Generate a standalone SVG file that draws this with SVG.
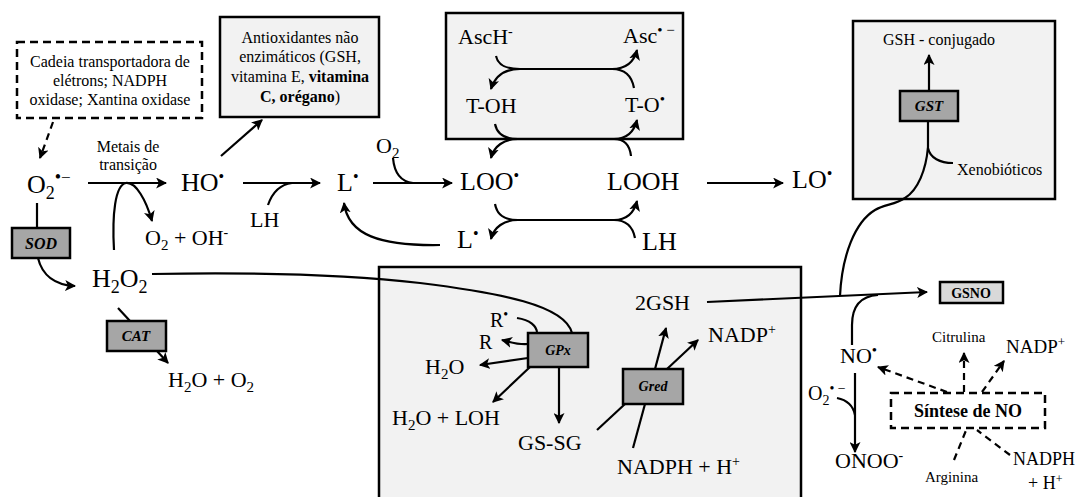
<svg xmlns="http://www.w3.org/2000/svg" width="1077" height="497" viewBox="0 0 1077 497">
<style>
text{font-family:"Liberation Serif","Times New Roman",serif;fill:#000}
.m{font-size:26px}
.s{font-size:22px}
.t{font-size:16px}
.c{text-anchor:middle}
.enz{font-weight:bold;font-style:italic;text-anchor:middle}
.box{fill:#f2f2f2;stroke:#000;stroke-width:2.5}
.ebox{fill:#a6a6a6;stroke:#000;stroke-width:2.5}
.dbox{fill:#fff;stroke:#000;stroke-width:2.5;stroke-dasharray:8 5}
.ln{fill:none;stroke:#000;stroke-width:2.2}
.ar{fill:none;stroke:#000;stroke-width:2.2;marker-end:url(#ah)}
.da{fill:none;stroke:#000;stroke-width:2.2;stroke-dasharray:7 5}
.dar{fill:none;stroke:#000;stroke-width:2.2;stroke-dasharray:7 5;marker-end:url(#ah)}
</style>
<defs>
<marker id="ah" viewBox="0 0 10 10" refX="9" refY="5" markerWidth="11" markerHeight="11" markerUnits="userSpaceOnUse" orient="auto">
<path d="M0,0 L10,5 L0,10 L2.5,5 Z" fill="#000"/>
</marker>
</defs>

<!-- background boxes -->
<g id="box-sources"><rect class="dbox" x="17" y="42" width="185" height="76"/>
<text class="t c" x="110" y="67">Cadeia transportadora de</text>
<text class="t c" x="110" y="86">elétrons; NADPH</text>
<text class="t c" x="110" y="105">oxidase; Xantina oxidase</text></g>

<g id="box-antiox"><rect class="box" x="220" y="17" width="159" height="100"/>
<text class="t c" x="300" y="43">Antioxidantes não</text>
<text class="t c" x="300" y="62">enzimáticos (GSH,</text>
<text class="t c" x="300" y="82">vitamina E, <tspan font-weight="bold">vitamina</tspan></text>
<text class="t c" x="300" y="102"><tspan font-weight="bold">C, orégano</tspan>)</text></g>

<g id="box-asc"><rect class="box" x="446" y="13" width="237" height="126"/>
<text class="s" x="458" y="44">AscH<tspan font-size="14" dy="-8">-</tspan></text>
<text class="s" x="623" y="43">Asc<tspan font-size="15" dy="-8">• −</tspan></text>
<text class="s" x="466" y="113">T-OH</text>
<text class="s" x="625" y="112">T-O<tspan font-size="15" dy="-8">•</tspan></text></g>

<g id="box-gst"><rect class="box" x="853" y="21" width="202" height="178"/>
<text class="t" x="883" y="45">GSH - conjugado</text>
<text class="t" x="957" y="175">Xenobióticos</text></g>

<g id="box-gpx"><rect class="box" x="379" y="267" width="422" height="245"/></g>

<!-- connectors -->
<g id="connectors">
<path class="dar" d="M53 122 L40 158"/>
<path class="ar" d="M88 183 L166 183"/>
<path class="ar" d="M114 250 C112 215 115 185 126 183 C136 182 146 200 152 221"/>
<path class="ar" d="M221 156 L262 120"/>
<path class="ar" d="M243 183 L320 183"/>
<path class="ln" d="M268 205 Q275 185 292 183"/>
<path class="ar" d="M373 183 L452 183"/>
<path class="ln" d="M393 158 Q395 181 413 183"/>
<path class="ar" d="M440 245 C380 246 348 235 344 203"/>
<!-- Asc cycle -->
<path class="ar" d="M496 56 C498 65 505 69 520 69 L612 69 C626 69 634 62 637 50"/>
<path class="ar" d="M634 88 C632 77 626 69 612 69 M520 69 C505 69 495 76 491 89"/>
<!-- T-OH / LOO cycle -->
<path class="ar" d="M495 124 C497 134 504 139 518 139 L614 139 C627 139 634 132 637 120"/>
<path class="ar" d="M631 156 C630 147 626 139 614 139 M518 139 C504 139 494 146 491 158"/>
<!-- LOO / LH cycle -->
<path class="ar" d="M495 204 C497 215 504 220 518 220 L614 220 C627 220 634 213 637 201"/>
<path class="ar" d="M635 238 C633 228 627 220 614 220 M518 220 C504 220 494 227 491 239"/>
<path class="ar" d="M707 183 L783 183"/>
<!-- GST -->
<path class="ar" d="M929 91 L929 55"/>
<path class="ln" d="M928 122 L928 147 C926 170 918 190 905 198 C895 205 885 204 875 210 C855 222 842 255 840 296"/>
<path class="ln" d="M928 148 C930 158 940 163 953 163"/>
<!-- SOD / CAT -->
<path class="ln" d="M37 203 L37 228"/>
<path class="ar" d="M38 258 C42 275 55 285 75 286"/>
<path class="ln" d="M118 308 L130 321"/>
<path class="ar" d="M157 351 L168 363"/>
<!-- H2O2 to GPx -->
<path class="ln" d="M152 274 C260 272 350 275 420 283 C500 293 565 305 572 333"/>
<path class="ln" d="M517 318 C530 320 537 326 537 333"/>
<path class="ar" d="M528 344 C518 345 510 342 502 340"/>
<path class="ar" d="M528 358 L480 365"/>
<path class="ar" d="M530 367 L493 402"/>
<path class="ar" d="M559 367 L559 423"/>
<path class="ln" d="M597 430 L625 404"/>
<path class="ln" d="M633 448 L645 404"/>
<path class="ar" d="M655 369 L666 328"/>
<path class="ar" d="M667 369 L698 340"/>
<path class="ar" d="M707 302 L927 292"/>
<!-- NO -->
<path class="ln" d="M852 345 L852 325 C852 305 862 296 878 295"/>
<path class="ar" d="M855 373 L855 452"/>
<path class="ln" d="M837 398 C847 400 853 405 855 415"/>
<path class="dar" d="M947 392 L878 367"/>
<path class="dar" d="M964 392 L964 353"/>
<path class="dar" d="M982 392 L1004 361"/>
<path class="da" d="M954 460 L967 428"/>
<path class="da" d="M1010 455 L977 430"/>
</g>

<!-- species nodes -->
<g id="n-o2r"><text class="m" x="27" y="193">O<tspan font-size="18" dy="6">2</tspan><tspan font-size="18" dy="-16">•</tspan><tspan font-size="17">−</tspan></text></g>
<g id="n-metais"><text class="t c" x="128" y="152">Metais de</text><text class="t c" x="128" y="170">transição</text></g>
<g id="n-ho"><text class="m" x="181" y="191">HO<tspan font-size="16" dy="-9">•</tspan></text></g>
<g id="n-o2oh"><text class="s" x="145" y="245">O<tspan font-size="15" dy="5">2</tspan><tspan dy="-5"> + OH</tspan><tspan font-size="14" dy="-8">-</tspan></text></g>
<g id="n-lh1"><text class="s" x="250" y="227">LH</text></g>
<g id="n-l1"><text class="m" x="337" y="191">L<tspan font-size="16" dy="-9">•</tspan></text></g>
<g id="n-o2"><text class="s" x="376" y="153">O<tspan font-size="15" dy="5">2</tspan></text></g>
<g id="n-loo"><text class="m" x="460" y="190">LOO<tspan font-size="16" dy="-9">•</tspan></text></g>
<g id="n-looh"><text class="m" x="607" y="190">LOOH</text></g>
<g id="n-l2"><text class="m" x="457" y="248">L<tspan font-size="16" dy="-9">•</tspan></text></g>
<g id="n-lh2"><text class="m" x="642" y="250">LH</text></g>
<g id="n-lo"><text class="m" x="792" y="188">LO<tspan font-size="16" dy="-9">•</tspan></text></g>
<g id="n-gst"><rect class="ebox" x="900" y="91" width="58" height="30"/><text class="enz" x="929" y="111" font-size="15">GST</text></g>
<g id="n-sod"><rect class="ebox" x="12" y="228" width="58" height="30"/><text class="enz" x="41" y="249" font-size="16">SOD</text></g>
<g id="n-h2o2"><text class="m" x="92" y="287">H<tspan font-size="18" dy="6">2</tspan><tspan dy="-6">O</tspan><tspan font-size="18" dy="6">2</tspan></text></g>
<g id="n-cat"><rect class="ebox" x="107" y="321" width="59" height="30"/><text class="enz" x="136" y="341" font-size="15">CAT</text></g>
<g id="n-h2oo2"><text class="s" x="168" y="387">H<tspan font-size="15" dy="5">2</tspan><tspan dy="-5">O + O</tspan><tspan font-size="15" dy="5">2</tspan></text></g>
<g id="n-gpx"><rect class="ebox" x="528" y="333" width="60" height="34"/><text class="enz" x="558" y="355" font-size="14">GPx</text></g>
<g id="n-gred"><rect class="ebox" x="623" y="369" width="60" height="35"/><text class="enz" x="653" y="391" font-size="14">Gred</text></g>
<g id="n-r"><text font-size="20" x="490" y="327">R<tspan font-size="14" dy="-8">•</tspan></text><text font-size="20" x="479" y="349">R</text></g>
<g id="n-h2o"><text class="s" x="425" y="374">H<tspan font-size="15" dy="5">2</tspan><tspan dy="-5">O</tspan></text></g>
<g id="n-h2oloh"><text class="s" x="392" y="425">H<tspan font-size="15" dy="5">2</tspan><tspan dy="-5">O + LOH</tspan></text></g>
<g id="n-gssg"><text class="s" x="518" y="450">GS-SG</text></g>
<g id="n-nadph"><text class="s" x="617" y="474">NADPH + H<tspan font-size="14" dy="-8">+</tspan></text></g>
<g id="n-2gsh"><text class="s" x="635" y="310">2GSH</text></g>
<g id="n-nadp"><text class="s" x="708" y="342">NADP<tspan font-size="14" dy="-8">+</tspan></text></g>
<g id="n-gsno"><rect x="940" y="282" width="63" height="21" fill="#d9d9d9" stroke="#000" stroke-width="2.5"/><text x="971" y="298" font-size="14" font-weight="bold" text-anchor="middle">GSNO</text></g>
<g id="n-no"><text class="s" x="840" y="363">NO<tspan font-size="15" dy="-8">•</tspan></text></g>
<g id="n-o2r2"><text font-size="20" x="808" y="400">O<tspan font-size="14" dy="5">2</tspan><tspan font-size="14" dy="-12">• −</tspan></text></g>
<g id="n-onoo"><text class="s" x="835" y="468">ONOO<tspan font-size="14" dy="-8">-</tspan></text></g>
<g id="n-sintese"><rect class="dbox" x="891" y="393" width="154" height="35"/><text x="968" y="417" font-size="18" font-weight="bold" text-anchor="middle">Síntese de NO</text></g>
<g id="n-citrulina"><text font-size="15" x="932" y="342">Citrulina</text></g>
<g id="n-nadp2"><text font-size="19" x="1006" y="353">NADP<tspan font-size="13" dy="-7">+</tspan></text></g>
<g id="n-arginina"><text font-size="15" x="925" y="482">Arginina</text></g>
<g id="n-nadph2"><text font-size="18" x="1013" y="465">NADPH</text><text font-size="18" x="1028" y="489">+ H<tspan font-size="12" dy="-6">+</tspan></text></g>
</svg>
